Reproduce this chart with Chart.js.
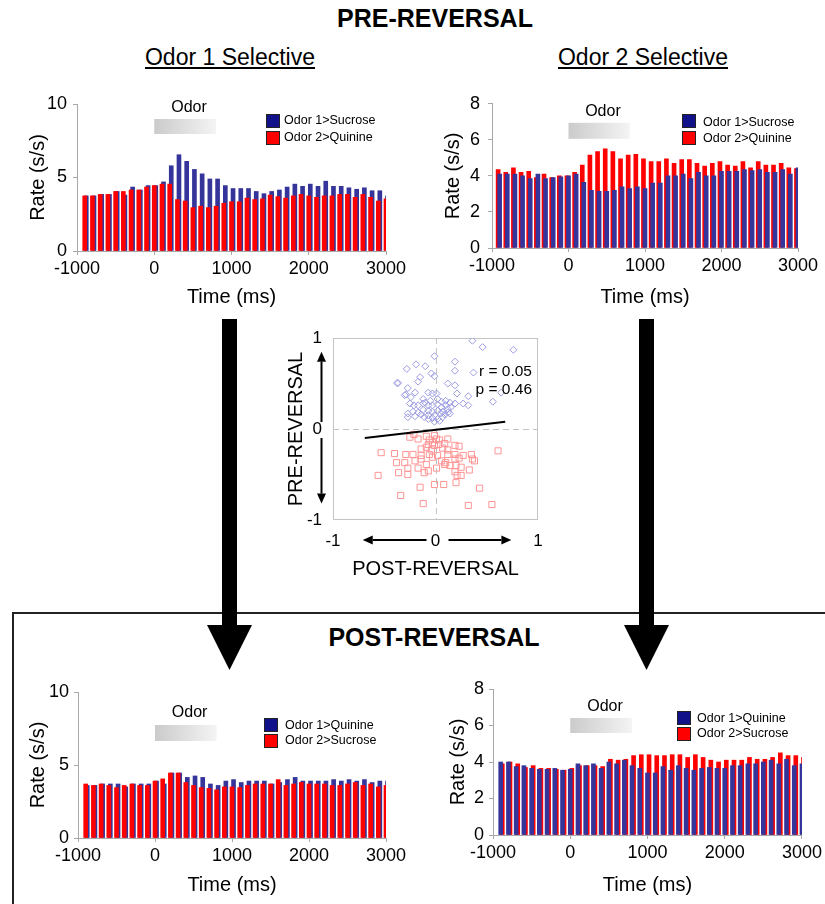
<!DOCTYPE html>
<html>
<head>
<meta charset="utf-8">
<script src="https://cdn.jsdelivr.net/npm/chart.js@4.4.1/dist/chart.umd.min.js"></script>
<style>
  body { margin: 0; background: #fff; font-family: "Liberation Sans", Arial, sans-serif; color: #000; }
  #page { position: relative; width: 825px; height: 904px; overflow: hidden; }
  canvas { position: absolute; }
  .head { position: absolute; font-weight: bold; font-size: 25px; line-height: 28px; transform: translateX(-50%); white-space: nowrap; }
  .sub { position: absolute; font-size: 23px; line-height: 26px; text-decoration: underline; transform: translateX(-50%); white-space: nowrap; }
  .leg { position: absolute; font-size: 12.5px; line-height: 15px; white-space: nowrap; }
  .sw { position: absolute; width: 12px; height: 12px; border: 1px solid #222; }
  .stat { position: absolute; font-size: 15.5px; line-height: 18px; text-align: right; width: 80px; }
  svg { position: absolute; left: 0; top: 0; }
</style>
</head>
<body>
<div id="page">
  <div class="head" style="left:435px; top:4px;">PRE-REVERSAL</div>
  <div class="sub" style="left:230px; top:44px;">Odor 1 Selective</div>
  <div class="sub" style="left:643px; top:44px;">Odor 2 Selective</div>

  <svg width="825" height="904">
    <path d="M13,904 L13,613 L825,613" fill="none" stroke="#222" stroke-width="2"/>
    <rect x="222" y="319" width="15" height="307" fill="#000"/>
    <polygon points="207,625 252,625 229.5,670" fill="#000"/>
    <rect x="639" y="319" width="15" height="307" fill="#000"/>
    <polygon points="624,625 669,625 646.5,670" fill="#000"/>
  </svg>

  <div class="head" style="left:434px; top:623px;">POST-REVERSAL</div>

  <canvas id="pre1" width="400" height="225" style="left:20px; top:85px;"></canvas>
  <canvas id="pre2" width="385" height="225" style="left:440px; top:85px;"></canvas>
  <canvas id="post1" width="400" height="232" style="left:20px; top:672px;"></canvas>
  <canvas id="post2" width="385" height="234" style="left:440px; top:670px;"></canvas>
  <canvas id="scatter" width="290" height="265" style="left:280px; top:320px;"></canvas>

  <!-- legends -->
  <div class="sw" style="left:266px; top:114px; background:#11118a;"></div>
  <div class="sw" style="left:266px; top:131px; background:#ff0000;"></div>
  <div class="leg" style="left:284px; top:113px;">Odor 1&gt;Sucrose</div>
  <div class="leg" style="left:284px; top:130px;">Odor 2&gt;Quinine</div>

  <div class="sw" style="left:682px; top:114px; background:#11118a;"></div>
  <div class="sw" style="left:682px; top:131px; background:#ff0000;"></div>
  <div class="leg" style="left:703px; top:115px;">Odor 1&gt;Sucrose</div>
  <div class="leg" style="left:703px; top:131px;">Odor 2&gt;Quinine</div>

  <div class="sw" style="left:264px; top:718px; background:#11118a;"></div>
  <div class="sw" style="left:264px; top:734px; background:#ff0000;"></div>
  <div class="leg" style="left:285px; top:718px;">Odor 1&gt;Quinine</div>
  <div class="leg" style="left:285px; top:733px;">Odor 2&gt;Sucrose</div>

  <div class="sw" style="left:677px; top:711px; background:#11118a;"></div>
  <div class="sw" style="left:677px; top:727px; background:#ff0000;"></div>
  <div class="leg" style="left:697px; top:711px;">Odor 1&gt;Quinine</div>
  <div class="leg" style="left:697px; top:726px;">Odor 2&gt;Sucrose</div>

  <div class="stat" style="left:452px; top:362px;">r = 0.05</div>
  <div class="stat" style="left:452px; top:380px;">p = 0.46</div>
</div>

<script>
// 100 ms bins, labelled by bin time (ms)
var timeBins = [-900, -800, -700, -600, -500, -400, -300, -200, -100, 0,
                100, 200, 300, 400, 500, 600, 700, 800, 900, 1000,
                1100, 1200, 1300, 1400, 1500, 1600, 1700, 1800, 1900, 2000,
                2100, 2200, 2300, 2400, 2500, 2600, 2700, 2800, 2900, 3000];
var timeTicks = [-1000, 0, 1000, 2000, 3000];
var odorWindow = [0, 800];
var odorLabelAt = 450;

// PRE-REVERSAL, odor 1 selective cells
var pre1Odor1 = [3.75, 3.75, 3.85, 3.85, 4.05, 3.8, 4.35, 4.15, 4.45, 4.45,
                 4.7, 5.8, 6.55, 6.1, 5.55, 5.25, 4.9, 4.9, 4.45, 4.25,
                 4.25, 4.25, 4.05, 3.9, 4.05, 4.15, 4.35, 4.55, 4.4, 4.55,
                 4.4, 4.75, 4.4, 4.4, 4.3, 4.2, 4.3, 4.1, 4.1, 3.75];
var pre1Odor2 = [3.75, 3.75, 3.85, 3.85, 4.05, 4.05, 4.15, 4.15, 4.35, 4.45,
                 4.55, 4.55, 3.5, 3.4, 2.95, 3.05, 2.95, 3.05, 3.25, 3.35,
                 3.35, 3.6, 3.5, 3.55, 3.8, 3.7, 3.6, 3.75, 3.85, 3.75,
                 3.65, 3.75, 3.75, 3.85, 3.85, 3.65, 3.85, 3.65, 3.4, 3.55];

// PRE-REVERSAL, odor 2 selective cells
var pre2Odor1 = [4.1, 4.1, 4.1, 4.0, 3.85, 4.1, 3.85, 3.9, 3.95, 4.0,
                 4.1, 3.65, 3.2, 3.15, 3.15, 3.2, 3.4, 3.3, 3.4, 3.3,
                 3.6, 3.6, 4.0, 4.0, 4.1, 3.85, 4.2, 4.0, 4.0, 4.25,
                 4.25, 4.25, 4.35, 4.3, 4.35, 4.2, 4.2, 4.35, 4.1, 4.45];
var pre2Odor2 = [4.35, 4.2, 4.45, 4.2, 4.25, 3.9, 4.1, 3.9, 4.0, 4.0,
                 4.2, 4.6, 5.15, 5.35, 5.5, 5.35, 4.95, 5.15, 5.2, 4.95,
                 4.8, 4.8, 4.95, 4.7, 4.9, 4.9, 4.7, 4.55, 4.7, 4.8,
                 4.6, 4.55, 4.8, 4.45, 4.8, 4.6, 4.6, 4.7, 4.45, 4.4];

// POST-REVERSAL, odor 1 selective cells
var post1Odor1 = [3.6, 3.6, 3.7, 3.7, 3.7, 3.5, 3.7, 3.7, 3.7, 3.9,
                  3.7, 4.45, 4.45, 4.15, 4.25, 4.15, 3.7, 3.6, 3.9, 4.0,
                  3.8, 3.9, 3.9, 3.9, 3.7, 3.8, 4.0, 4.15, 3.9, 3.9,
                  3.9, 3.9, 4.0, 3.9, 4.0, 3.9, 4.0, 3.8, 3.9, 3.9];
var post1Odor2 = [3.7, 3.6, 3.7, 3.6, 3.45, 3.6, 3.7, 3.6, 3.6, 3.9,
                  4.05, 4.45, 4.45, 3.8, 3.6, 3.45, 3.4, 3.3, 3.5, 3.5,
                  3.45, 3.6, 3.7, 3.7, 3.7, 4.0, 3.6, 3.7, 3.8, 3.7,
                  3.7, 3.7, 3.6, 3.6, 3.7, 3.8, 3.6, 3.7, 3.5, 3.6];

// POST-REVERSAL, odor 2 selective cells
var post2Odor1 = [4.0, 4.0, 3.75, 3.8, 3.65, 3.6, 3.6, 3.65, 3.55, 3.6,
                  3.9, 3.8, 3.9, 3.65, 4.0, 3.9, 4.1, 3.8, 3.65, 3.4,
                  3.4, 3.75, 3.55, 3.8, 3.65, 3.55, 3.65, 3.7, 3.65, 3.65,
                  3.8, 3.8, 3.9, 3.9, 4.0, 4.1, 3.9, 4.15, 3.8, 3.9];
var post2Odor2 = [3.9, 4.0, 3.9, 3.7, 3.8, 3.65, 3.65, 3.6, 3.55, 3.65,
                  3.8, 3.8, 3.8, 3.75, 4.15, 4.1, 4.15, 4.35, 4.4, 4.4,
                  4.35, 4.35, 4.4, 4.4, 4.25, 4.4, 4.25, 4.1, 4.0, 4.1,
                  4.1, 4.1, 4.25, 4.15, 4.15, 4.25, 4.5, 4.35, 4.35, 4.25];

// selectivity index, post vs pre reversal  [post, pre]
var odor1Cells = [[0.36, 0.97], [0.46, 0.90], [0.76, 0.87], [-0.01, 0.80], [0.19, 0.74],
  [-0.28, 0.66], [-0.19, 0.71], [-0.10, 0.69], [-0.15, 0.57], [-0.04, 0.61], [-0.01, 0.58],
  [0.19, 0.64], [0.37, 0.62], [-0.37, 0.51], [-0.37, 0.50], [-0.17, 0.52], [-0.27, 0.45],
  [0.12, 0.50], [0.19, 0.48], [0.21, 0.39], [0.32, 0.36], [0.64, 0.40], [0.56, 0.30],
  [-0.29, 0.38], [-0.20, 0.40], [-0.30, 0.37], [-0.24, 0.35], [-0.07, 0.40], [-0.03, 0.39],
  [0.01, 0.39], [-0.12, 0.33], [-0.10, 0.29], [-0.05, 0.31], [0.02, 0.33], [0.06, 0.30],
  [0.10, 0.31], [0.14, 0.29], [0.19, 0.28], [0.27, 0.28], [0.32, 0.26], [-0.25, 0.28],
  [-0.21, 0.26], [-0.17, 0.26], [-0.12, 0.28], [-0.07, 0.26], [-0.03, 0.26], [0.02, 0.27],
  [0.06, 0.24], [0.10, 0.26], [0.12, 0.22], [0.15, 0.24], [-0.22, 0.19], [-0.17, 0.18],
  [-0.12, 0.21], [-0.07, 0.20], [-0.03, 0.19], [0.02, 0.20], [0.07, 0.19], [0.12, 0.18],
  [-0.27, 0.17], [-0.14, 0.16], [-0.07, 0.15], [-0.01, 0.15], [0.05, 0.17], [0.09, 0.16],
  [0.14, 0.17], [-0.03, 0.12], [0.02, 0.11], [0.07, 0.13], [-0.07, 0.11], [-0.01, 0.08],
  [0.04, 0.09], [-0.27, 0.13], [-0.20, 0.14], [-0.11, 0.13]];
var odor2Cells = [[-0.21, -0.06], [-0.17, -0.11], [-0.25, -0.09], [-0.09, -0.08], [-0.06, -0.12],
  [-0.01, -0.07], [0.01, -0.11], [0.04, -0.12], [-0.03, -0.15], [-0.07, -0.17], [0.09, -0.16],
  [0.12, -0.11], [-0.14, -0.22], [-0.09, -0.20], [-0.04, -0.23], [-0.01, -0.18], [0.03, -0.17],
  [0.07, -0.21], [0.12, -0.23], [0.19, -0.18], [0.23, -0.19], [-0.53, -0.26], [-0.40, -0.27],
  [-0.29, -0.28], [-0.22, -0.28], [-0.14, -0.29], [-0.06, -0.28], [0.02, -0.29], [0.12, -0.28],
  [0.19, -0.28], [0.27, -0.29], [0.35, -0.28], [0.61, -0.24], [-0.38, -0.37], [-0.30, -0.37],
  [-0.20, -0.35], [-0.14, -0.33], [-0.09, -0.39], [-0.03, -0.31], [0.06, -0.35], [0.10, -0.37],
  [0.19, -0.33], [0.23, -0.32], [0.36, -0.33], [0.38, -0.35], [-0.27, -0.43], [-0.17, -0.43],
  [-0.07, -0.46], [0.01, -0.43], [0.09, -0.39], [0.14, -0.40], [0.20, -0.40], [0.25, -0.42],
  [0.33, -0.45], [-0.56, -0.51], [-0.36, -0.48], [-0.27, -0.50], [-0.11, -0.48], [0.19, -0.47],
  [0.21, -0.51], [0.25, -0.51], [0.20, -0.59], [-0.01, -0.61], [0.08, -0.61], [-0.15, -0.64],
  [0.43, -0.65], [-0.34, -0.73], [-0.12, -0.82], [0.32, -0.84], [0.55, -0.83]];
var fitLine = [[-0.69, -0.10], [0.68, 0.08]];
var selTicks = [-1, 0, 1];

var FONT = '"Liberation Sans", Arial, sans-serif';
var BLUE = '#34349a', RED = '#ff0000', AXIS = '#a8a8a8';
Chart.defaults.font.family = FONT;
Chart.defaults.color = '#000';

// grey gradient box marking the odor period, with its label
var odorPlugin = {
    id: 'odor',
    beforeDatasetsDraw: function(chart, args, opts) {
        var ctx = chart.ctx, a = chart.chartArea, x = chart.scales.x;
        var x0 = x.getPixelForValue(odorWindow[0]);
        var x1 = x.getPixelForValue(odorWindow[1]);
        var g = ctx.createLinearGradient(x0, 0, x1, 0);
        g.addColorStop(0, '#cbcbcb');
        g.addColorStop(1, '#f4f4f4');
        ctx.save();
        ctx.fillStyle = g;
        ctx.fillRect(x0, a.top + opts.boxTop, x1 - x0, opts.boxBottom - opts.boxTop);
        ctx.fillStyle = '#000';
        ctx.font = '16px ' + FONT;
        ctx.textAlign = 'center';
        ctx.textBaseline = 'middle';
        ctx.fillText('Odor', x.getPixelForValue(odorLabelAt), a.top + opts.textY);
        ctx.restore();
    }
};

function barSet(label, values, color, axis) {
    return {
        label: label,
        data: values,
        backgroundColor: color,
        borderWidth: 0,
        barThickness: 4,
        grouped: false,
        xAxisID: axis
    };
}

function rateChart(id, c) {
    var blue = barSet(c.names[0], c.odor1, BLUE, c.blueFront ? 'x' : 'xb');
    var red = barSet(c.names[1], c.odor2, RED, c.blueFront ? 'xb' : 'x');
    var sets = c.blueFront ? [blue, red] : [red, blue];  // first one is drawn on top

    return new Chart(document.getElementById(id), {
        type: 'bar',
        data: { labels: timeBins, datasets: sets },
        plugins: [odorPlugin],
        options: {
            responsive: false,
            animation: false,
            events: [],
            layout: { padding: { top: c.padTop, right: c.padRight, left: 0, bottom: 0 } },
            plugins: {
                legend: { display: false },
                tooltip: { enabled: false },
                odor: c.odor
            },
            scales: {
                x: {
                    type: 'linear', min: -1000, max: 3000, offset: false,
                    afterBuildTicks: function(s) { s.ticks = timeTicks.map(function(v) { return { value: v }; }); },
                    ticks: { autoSkip: false, maxRotation: 0, padding: 3, color: '#000',
                             font: { size: 18 }, callback: function(v) { return String(v); } },
                    grid: { display: true, drawOnChartArea: false, drawTicks: true, tickLength: 4, color: AXIS, offset: false },
                    border: { display: true, color: AXIS },
                    title: { display: true, text: 'Time (ms)', color: '#000', font: { size: 20 },
                             padding: { top: 0, bottom: c.xTitlePad } },
                    afterFit: function(s) { s.height = c.xAxisH; }
                },
                xb: { type: 'linear', display: false, min: -1000 + c.shift, max: 3000 + c.shift, offset: false },
                y: {
                    min: 0, max: c.yMax,
                    ticks: { stepSize: c.yStep, padding: c.yTickPad, color: '#000', font: { size: 18 } },
                    grid: { display: true, drawOnChartArea: false, drawTicks: true, tickLength: 4, color: AXIS },
                    border: { display: true, color: AXIS },
                    title: { display: true, text: 'Rate (s/s)', color: '#000', font: { size: 20 },
                             padding: { top: c.yTitlePad, bottom: 0 } },
                    afterFit: function(s) { s.width = c.yAxisW; }
                }
            }
        }
    });
}

rateChart('pre1', {
    names: ['Odor 1>Sucrose', 'Odor 2>Quinine'], odor1: pre1Odor1, odor2: pre1Odor2,
    blueFront: false, shift: -20, yMax: 10, yStep: 5,
    padTop: 19, padRight: 34, yAxisW: 57, xAxisH: 59, xTitlePad: 1, yTitlePad: 6, yTickPad: 6,
    odor: { boxTop: 15, boxBottom: 30, textY: 4 }
});
rateChart('pre2', {
    names: ['Odor 1>Sucrose', 'Odor 2>Quinine'], odor1: pre2Odor1, odor2: pre2Odor2,
    blueFront: true, shift: 20, yMax: 8, yStep: 2,
    padTop: 17, padRight: 27, yAxisW: 52, xAxisH: 62, xTitlePad: 1, yTitlePad: 1, yTickPad: 8,
    odor: { boxTop: 19, boxBottom: 35, textY: 8 }
});
rateChart('post1', {
    names: ['Odor 1>Quinine', 'Odor 2>Sucrose'], odor1: post1Odor1, odor2: post1Odor2,
    blueFront: false, shift: -20, yMax: 10, yStep: 5,
    padTop: 20, padRight: 34, yAxisW: 58, xAxisH: 66, xTitlePad: 7, yTitlePad: 6, yTickPad: 5,
    odor: { boxTop: 33, boxBottom: 49, textY: 21 }
});
rateChart('post2', {
    names: ['Odor 1>Quinine', 'Odor 2>Sucrose'], odor1: post2Odor1, odor2: post2Odor2,
    blueFront: true, shift: -20, yMax: 8, yStep: 2,
    padTop: 19, padRight: 22, yAxisW: 53, xAxisH: 69, xTitlePad: 7, yTitlePad: 6, yTickPad: 5,
    odor: { boxTop: 29, boxBottom: 44, textY: 18 }
});

// frame, dashed zero lines and direction arrows for the scatter
function arrow(ctx, x1, y1, x2, y2) {
    var ang = Math.atan2(y2 - y1, x2 - x1), len = 10, half = 4.5;
    var bx = x2 - len * Math.cos(ang), by = y2 - len * Math.sin(ang);
    ctx.beginPath();
    ctx.moveTo(x1, y1);
    ctx.lineTo(bx, by);
    ctx.stroke();
    ctx.beginPath();
    ctx.moveTo(x2, y2);
    ctx.lineTo(bx + half * Math.sin(ang), by - half * Math.cos(ang));
    ctx.lineTo(bx - half * Math.sin(ang), by + half * Math.cos(ang));
    ctx.closePath();
    ctx.fill();
}

var scatterDeco = {
    id: 'deco',
    beforeDatasetsDraw: function(chart) {
        var ctx = chart.ctx, a = chart.chartArea, x = chart.scales.x, y = chart.scales.y;
        var zx = Math.round(x.getPixelForValue(0)) + 0.5, zy = Math.round(y.getPixelForValue(0)) + 0.5;
        ctx.save();
        ctx.strokeStyle = '#c4c4c4';
        ctx.lineWidth = 1;
        ctx.strokeRect(a.left + 0.5, a.top + 0.5, a.width - 1, a.height - 1);
        ctx.setLineDash([6, 4]);
        ctx.beginPath();
        ctx.moveTo(zx, a.top); ctx.lineTo(zx, a.bottom);
        ctx.moveTo(a.left, zy); ctx.lineTo(a.right, zy);
        ctx.stroke();
        ctx.restore();
    },
    afterDraw: function(chart) {
        var ctx = chart.ctx, a = chart.chartArea, x = chart.scales.x, y = chart.scales.y;
        var ax = a.left - 11.5, ay = a.bottom + 20;
        ctx.save();
        ctx.strokeStyle = '#000';
        ctx.fillStyle = '#000';
        ctx.lineWidth = 2;
        arrow(ctx, ax, y.getPixelForValue(0) - 7, ax, y.getPixelForValue(0.85));
        arrow(ctx, ax, y.getPixelForValue(0) + 9, ax, y.getPixelForValue(-0.82));
        arrow(ctx, x.getPixelForValue(0) - 9, ay, x.getPixelForValue(-0.71), ay);
        arrow(ctx, x.getPixelForValue(0) + 13, ay, x.getPixelForValue(0.74), ay);
        ctx.restore();
    }
};

function toPoints(list) {
    return list.map(function(p) { return { x: p[0], y: p[1] }; });
}

function selAxis(label, extra) {
    var s = {
        type: 'linear', min: -1, max: 1,
        afterBuildTicks: function(sc) { sc.ticks = selTicks.map(function(v) { return { value: v }; }); },
        ticks: { color: '#000', font: { size: 17 }, callback: function(v) { return String(v); } },
        grid: { display: false },
        border: { display: false },
        title: { display: true, text: label, color: '#000', font: { size: 20 } }
    };
    return Object.assign(s, extra);
}

new Chart(document.getElementById('scatter'), {
    type: 'scatter',
    data: {
        datasets: [
            { type: 'line', data: toPoints(fitLine), borderColor: '#000', borderWidth: 2,
              pointRadius: 0, fill: false, showLine: true },
            { data: toPoints(odor1Cells), pointStyle: 'rectRot', pointRadius: 3.5,
              borderColor: '#9c9ce2', borderWidth: 1, backgroundColor: 'rgba(0,0,0,0)' },
            { data: toPoints(odor2Cells), pointStyle: 'rect', pointRadius: 4.3,
              borderColor: '#ff9494', borderWidth: 1, backgroundColor: 'rgba(0,0,0,0)' }
        ]
    },
    plugins: [scatterDeco],
    options: {
        responsive: false,
        animation: false,
        events: [],
        layout: { padding: { top: 18, right: 32, left: 0, bottom: 0 } },
        plugins: { legend: { display: false }, tooltip: { enabled: false } },
        scales: {
            x: selAxis('POST-REVERSAL', {
                afterFit: function(s) { s.height = 65; }
            }),
            y: selAxis('PRE-REVERSAL', {
                afterFit: function(s) { s.width = 53; }
            })
        }
    }
});
</script>
</body>
</html>
